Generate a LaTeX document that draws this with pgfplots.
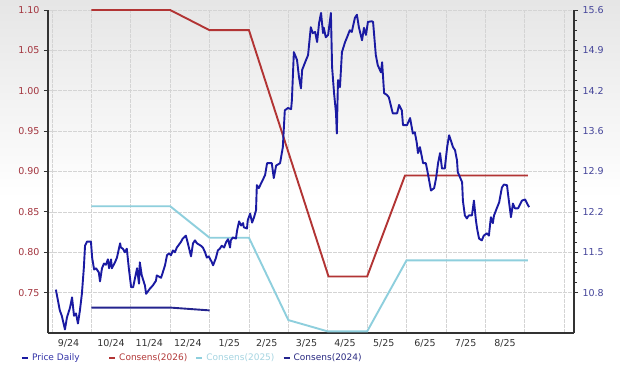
\documentclass[border=0pt]{standalone}
\usepackage{pgfplots}
\pgfplotsset{compat=1.18}
\usepackage{fontspec}
\setmainfont{DejaVu Sans}
\definecolor{pricec}{HTML}{1A1AA2}
\definecolor{c26}{HTML}{B23434}
\definecolor{c25}{HTML}{8ECFDD}
\definecolor{c24}{HTML}{24248E}
\definecolor{lefttxt}{HTML}{A3343E}
\definecolor{righttxt}{HTML}{45459A}
\definecolor{xtxt}{HTML}{333333}
\definecolor{leg1}{HTML}{3434A8}
\definecolor{leg2}{HTML}{B33A3A}
\definecolor{leg3}{HTML}{A6D5E2}
\definecolor{leg4}{HTML}{2A2A82}
\pgfdeclareverticalshading{bgshade}{100bp}{color(0bp)=(white); color(48bp)=(white); color(100bp)=(black!19)}
\begin{document}
\begin{tikzpicture}
\shade[shading=bgshade] (0pt,0pt) rectangle (620pt,368pt);
\useasboundingbox (0pt,0pt) rectangle (620pt,368pt);
\begin{axis}[
  at={(48pt,35pt)}, anchor=south west, scale only axis,
  width=526pt, height=323pt,
  xmin=-0.1, xmax=13.25, ymin=0.70, ymax=1.10,
  clip=false,
  axis x line*=bottom, axis y line*=left,
  axis line style={-, line width=1.7pt, black!80},
  xtick={0.42,1.5,2.47,3.45,4.5,5.45,6.46,7.44,8.42,9.47,10.5,11.5},
  xticklabels={9/24,10/24,11/24,12/24,1/25,2/25,3/25,4/25,5/25,6/25,7/25,8/25},
  x tick style={draw=none},
  minor xtick={0,1,...,13},
  xminorgrids=true,
  ytick={0.75,0.80,...,1.101},
  /pgf/number format/fixed, /pgf/number format/fixed zerofill, /pgf/number format/precision=2,
  ymajorgrids=true,
  grid style={black!17, line width=0.6pt, dash pattern=on 4pt off 1pt},
  minor grid style={black!17, line width=0.6pt, dash pattern=on 4pt off 1pt},
  tick align=outside, major tick length=4pt,
  y tick style={black!80, line width=0.8pt},
  yticklabel style={font=\fontsize{9.5}{11}\selectfont, text=lefttxt, xshift=-1pt},
  xticklabel style={font=\fontsize{9.5}{11}\selectfont, text=xtxt, yshift=1pt},
  /pgf/number format/assume math mode=true,
  legend columns=4,
  legend style={draw=none, fill=none, at={(-0.052,-0.077)}, anchor=west,
    inner sep=0pt, row sep=0pt, nodes={inner sep=1pt},
    font=\fontsize{9}{10}\selectfont,
    /tikz/every odd column/.append style={column sep=2pt}},
  legend image code/.code={\draw[#1, line width=2.2pt] (0pt,0pt) -- (6pt,0pt);},
]
\addlegendimage{pricec}
\addlegendentry{\makebox[75pt][l]{\textcolor{leg1}{Price Daily}}}
\addplot[c26, line width=1.9pt] coordinates {
(1,1.10) (3,1.10) (4,1.075) (5,1.075) (7.02,0.77) (8,0.77) (8.96,0.895) (12.08,0.895)};
\addlegendentry{\makebox[75pt][l]{\textcolor{leg2}{Consens(2026)}}}
\addplot[c25, line width=1.9pt] coordinates {
(1,0.857) (3,0.857) (4,0.818) (5,0.818) (6,0.716) (7,0.702) (8,0.702) (9,0.79) (12.08,0.79)};
\addlegendentry{\makebox[75pt][l]{\textcolor{leg3}{Consens(2025)}}}
\addplot[c24, line width=1.9pt] coordinates {
(1,0.7315) (3,0.7315) (4,0.728)};
\addlegendentry{\makebox[75pt][l]{\textcolor{leg4}{Consens(2024)}}}
\end{axis}
\begin{axis}[
  at={(48pt,35pt)}, anchor=south west, scale only axis,
  width=526pt, height=323pt,
  xmin=-0.1, xmax=13.25, ymin=10.16, ymax=15.60,
  clip=false,
  axis x line=none, axis y line*=right,
  axis line style={-, line width=1.7pt, black!80},
  ytick={10.84,11.52,12.20,12.88,13.56,14.24,14.92,15.60},
  minor y tick num=3,
  /pgf/number format/fixed, /pgf/number format/fixed zerofill, /pgf/number format/precision=1,
  /pgf/number format/assume math mode=true,
  tick align=outside, major tick length=4pt, minor tick length=2.5pt,
  y tick style={black!80, line width=0.8pt},
  yticklabel style={font=\fontsize{9.5}{11}\selectfont, text=righttxt, xshift=1pt},
]
\addplot[pricec, line width=1.9pt, line join=round] coordinates {
(0.10,10.89) (0.20,10.54) (0.25,10.45) (0.33,10.22) (0.38,10.42) (0.46,10.59) (0.51,10.76)
(0.56,10.45) (0.61,10.49) (0.66,10.32) (0.71,10.54) (0.76,10.82) (0.81,11.26) (0.84,11.63)
(0.89,11.70) (0.99,11.70) (1.02,11.43) (1.07,11.23) (1.12,11.25) (1.19,11.18) (1.22,11.03)
(1.27,11.25) (1.32,11.33) (1.37,11.31) (1.42,11.40) (1.45,11.25) (1.50,11.40) (1.52,11.25)
(1.60,11.35) (1.65,11.43) (1.73,11.67) (1.75,11.60) (1.80,11.58) (1.85,11.52) (1.90,11.58)
(1.95,11.26) (2.01,10.93) (2.06,10.93) (2.11,11.09) (2.16,11.25) (2.21,10.99) (2.23,11.35)
(2.28,11.13) (2.36,10.96) (2.39,10.82) (2.49,10.91) (2.56,10.96) (2.64,11.04) (2.66,11.13)
(2.77,11.09) (2.87,11.30) (2.92,11.47) (2.97,11.50) (3.02,11.47) (3.07,11.55) (3.12,11.52)
(3.17,11.60) (3.27,11.69) (3.32,11.75) (3.40,11.80) (3.45,11.67) (3.53,11.45) (3.58,11.67)
(3.63,11.72) (3.68,11.67) (3.78,11.63) (3.83,11.60) (3.88,11.53) (3.93,11.43) (3.98,11.45)
(4.06,11.35) (4.09,11.30) (4.16,11.42) (4.21,11.55) (4.26,11.58) (4.31,11.63) (4.37,11.60)
(4.42,11.69) (4.47,11.74) (4.52,11.60) (4.54,11.72) (4.59,11.77) (4.67,11.75) (4.70,11.89)
(4.75,12.04) (4.80,11.97) (4.85,12.01) (4.87,11.94) (4.95,11.92) (4.97,12.06) (5.03,12.17)
(5.08,12.02) (5.13,12.11) (5.18,12.23) (5.20,12.65) (5.25,12.60) (5.41,12.82) (5.46,13.02)
(5.58,13.02) (5.63,12.77) (5.69,12.98) (5.79,13.02) (5.86,13.29) (5.91,13.91) (5.99,13.95)
(6.07,13.93) (6.09,14.08) (6.14,14.89) (6.22,14.76) (6.27,14.47) (6.32,14.28) (6.35,14.59)
(6.42,14.71) (6.50,14.84) (6.57,15.31) (6.62,15.21) (6.68,15.23) (6.73,15.06) (6.78,15.38)
(6.83,15.55) (6.88,15.21) (6.90,15.30) (6.95,15.14) (7.01,15.18) (7.08,15.55) (7.11,14.64)
(7.16,14.20) (7.21,13.86) (7.23,13.52) (7.26,14.42) (7.31,14.30) (7.36,14.89) (7.44,15.06)
(7.49,15.14) (7.56,15.26) (7.61,15.23) (7.69,15.47) (7.74,15.52) (7.79,15.31) (7.87,15.09)
(7.92,15.30) (7.97,15.18) (8.02,15.40) (8.12,15.41) (8.15,15.40) (8.22,14.84) (8.27,14.67)
(8.35,14.55) (8.38,14.72) (8.43,14.20) (8.50,14.17) (8.55,14.13) (8.65,13.86) (8.76,13.86)
(8.81,14.00) (8.88,13.91) (8.91,13.66) (9.01,13.66) (9.09,13.78) (9.16,13.52) (9.21,13.54)
(9.26,13.36) (9.29,13.19) (9.34,13.29) (9.42,13.02) (9.49,13.02) (9.54,12.85) (9.62,12.56)
(9.70,12.60) (9.75,12.77) (9.80,13.02) (9.85,13.19) (9.90,12.93) (9.97,12.93) (10.03,13.29)
(10.08,13.49) (10.18,13.29) (10.23,13.24) (10.28,13.07) (10.30,12.87) (10.41,12.70)
(10.43,12.39) (10.48,12.14) (10.53,12.09) (10.58,12.14) (10.66,12.14) (10.71,12.39)
(10.76,12.06) (10.79,11.92) (10.84,11.75) (10.91,11.72) (10.96,11.80) (11.04,11.84)
(11.09,11.80) (11.14,12.11) (11.19,12.01) (11.22,12.14) (11.29,12.26) (11.35,12.36)
(11.42,12.61) (11.47,12.66) (11.55,12.65) (11.57,12.53) (11.65,12.11) (11.70,12.34)
(11.75,12.26) (11.83,12.26) (11.93,12.39) (12.01,12.41) (12.06,12.34) (12.11,12.28)};
\end{axis}
\end{tikzpicture}
\end{document}
